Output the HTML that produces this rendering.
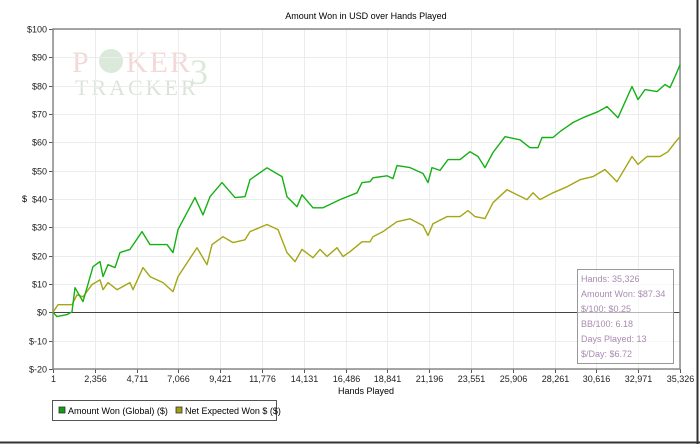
<!DOCTYPE html>
<html><head><meta charset="utf-8"><style>
body{margin:0;background:#fff;width:700px;height:444px;overflow:hidden;font-family:"Liberation Sans",sans-serif}
</style></head><body>
<svg width="700" height="444" id="svg" style="position:absolute;left:0;top:0">
<text x="366" y="19" font-size="9" text-anchor="middle">Amount Won in USD over Hands Played</text>
<g font-family="Liberation Serif" opacity="0.18">
<text x="72" y="72" font-size="30" fill="#c03030" letter-spacing="2">P</text>
<circle cx="111" cy="61" r="12" fill="#3a8a3a"/>
<text x="126" y="72" font-size="30" fill="#c03030" letter-spacing="2">KER</text>
<text x="190" y="84" font-size="36" fill="#3a8a3a">3</text>
<text x="75" y="95" font-size="22" fill="#3a6a3a" letter-spacing="3">TRACKER</text>
</g>
<g id="grid"></g>
<g id="axes"></g>
<g id="series"></g>
<text x="22" y="202" font-size="9">$</text>
<text x="366" y="394" font-size="9" text-anchor="middle">Hands Played</text>
<g font-size="9" fill="#a98bb0">
<rect x="577.5" y="269.5" width="96" height="94" fill="rgba(255,255,255,0.6)" stroke="#999"/>
<text x="581" y="282">Hands: 35,326</text>
<text x="581" y="297">Amount Won: $87.34</text>
<text x="581" y="312">$/100: $0.25</text>
<text x="581" y="327">BB/100: 6.18</text>
<text x="581" y="342">Days Played: 13</text>
<text x="581" y="357">$/Day: $6.72</text>
</g>
<g>
<rect x="52.5" y="400.5" width="224" height="20" fill="#fff" stroke="#555"/>
<rect x="59" y="407" width="6" height="6" fill="#10a010" stroke="#333" stroke-width="0.8"/>
<text x="68" y="414" font-size="9">Amount Won (Global) ($)</text>
<rect x="176" y="407" width="6" height="6" fill="#a0a010" stroke="#333" stroke-width="0.8"/>
<text x="185" y="414" font-size="9">Net Expected Won $ ($)</text>
</g>
<line x1="0" y1="442.5" x2="700" y2="442.5" stroke="#333" stroke-width="2"/>
<line x1="697.5" y1="0" x2="697.5" y2="444" stroke="#333" stroke-width="2"/>
</svg>
<script>
const xTicks=[1,2356,4711,7066,9421,11776,14131,16486,18841,21196,23551,25906,28261,30616,32971,35326];
const xTickLabels=["1","2,356","4,711","7,066","9,421","11,776","14,131","16,486","18,841","21,196","23,551","25,906","28,261","30,616","32,971","35,326"];
const yTicks=[-20,-10,0,10,20,30,40,50,60,70,80,90,100];
const yTickLabels=["$-20","$-10","$0","$10","$20","$30","$40","$50","$60","$70","$80","$90","$100"];
const wonHands=[1,226,789,1071,1240,1691,2254,2649,2818,3100,3494,3776,4339,5015,5466,6424,6762,7044,8001,8452,8847,9523,10255,10819,11100,12058,12903,13185,13748,14030,14649,15213,16171,17128,17410,17861,18030,18819,19157,19382,20115,20847,21129,21354,21805,22255,22931,23494,23945,24340,24790,25466,26311,26875,27325,27551,28171,28565,29297,29860,30705,31212,31832,32620,32958,33353,34029,34480,34762,35043,35326];
const wonValues=[0,-1.5,-0.8,0.2,8.7,3.8,16.1,17.9,12.6,16.8,15.8,21.1,22.2,28.5,23.9,23.9,21.1,29.2,40.5,34.4,40.8,45.8,40.5,40.8,46.8,51.0,47.9,40.8,37.3,41.5,36.9,36.9,39.8,42.2,45.8,46.1,47.5,48.2,47.2,51.8,51.1,49,45.8,51.1,50.1,53.9,53.9,56.7,55,51.1,56.4,62,60.9,58.1,58.1,61.7,61.7,63.8,67,68.7,70.8,72.6,68.7,79.7,75.1,78.6,77.9,80.4,79.3,83.2,87.34];
const expHands=[1,282,1071,1353,1691,2198,2649,2818,3100,3607,4339,4508,5072,5466,6198,6762,7044,8114,8677,8959,9579,10142,10819,11100,12058,12677,13185,13636,14030,14649,15044,15438,16001,16339,16734,17410,17861,18030,18594,19382,20115,20847,21129,21411,22199,22931,23382,23776,24340,24790,25579,25917,26706,27044,27438,28171,28959,29691,30424,31100,31776,32621,32959,33466,34198,34649,35043,35326];
const expValues=[0,2.7,2.7,6.2,5.5,9.8,11.5,8,10.5,8,10.5,8,15.8,12.6,10.5,7.3,12.6,22.8,16.8,23.9,26.7,24.6,25.6,28.5,31,29.2,21.1,17.9,22.2,19.3,22.2,19.7,22.8,19.7,21.4,24.9,24.9,26.7,28.5,32,33,30.6,27.1,31.3,33.8,33.8,35.9,33.8,33.1,38.7,43.3,42.2,39.8,42.2,39.8,42.2,44.3,46.8,47.9,50.4,46.1,55,52.2,55,55,56.7,59.9,62];
const L=53,R=680,T=29,B=369,NS="http://www.w3.org/2000/svg";
const xs=h=>L+(h-1)/(35326-1)*(R-L);
const ys=v=>B-(v+20)/120*(B-T);
function mk(tag,attrs,parent){const e=document.createElementNS(NS,tag);for(const k in attrs)e.setAttribute(k,attrs[k]);parent.appendChild(e);return e;}
const grid=document.getElementById('grid'),axes=document.getElementById('axes'),ser=document.getElementById('series');
xTicks.forEach((t,i)=>{const x=Math.round(xs(t))+0.5;
 const g=mk('line',{x1:x,y1:T,x2:x,y2:B,stroke:'#ececec'},grid);
 
 
 mk('line',{x1:x,y1:B,x2:x,y2:B+4,stroke:'#555'},axes);
 const tx=mk('text',{x:x,y:B+13,'font-size':9,'text-anchor':'middle',fill:'#222'},axes);tx.textContent=xTickLabels[i];
 
 
});
yTicks.forEach((t,i)=>{const y=Math.round(ys(t))+0.5;
 const g=mk('line',{x1:L,y1:y,x2:R,y2:y,stroke:t===0?'#444':'#ececec'},grid);
 
 
 mk('line',{x1:L-4,y1:y,x2:L,y2:y,stroke:'#555'},axes);
 const tx=mk('text',{x:L-6,y:y+3,'font-size':9,'text-anchor':'end',fill:'#222'},axes);tx.textContent=yTickLabels[i];
 
 
});
const frame=mk('rect',{x:L,y:T,width:R-L,height:B-T,fill:'none',stroke:'#888','stroke-width':1.5},axes);


function line(hs,vs,color,name){
 const d=hs.map((h,i)=>(i?'L':'M')+xs(h).toFixed(1)+','+ys(vs[i]).toFixed(1)).join('');
 const p=mk('path',{d:d,fill:'none',stroke:color,'stroke-width':1.4,'stroke-linejoin':'round'},ser);
 
 
}
line(expHands,expValues,'#a5a515','net-expected-won-line');
line(wonHands,wonValues,'#14b014','amount-won-line');
</script>
</body></html>
